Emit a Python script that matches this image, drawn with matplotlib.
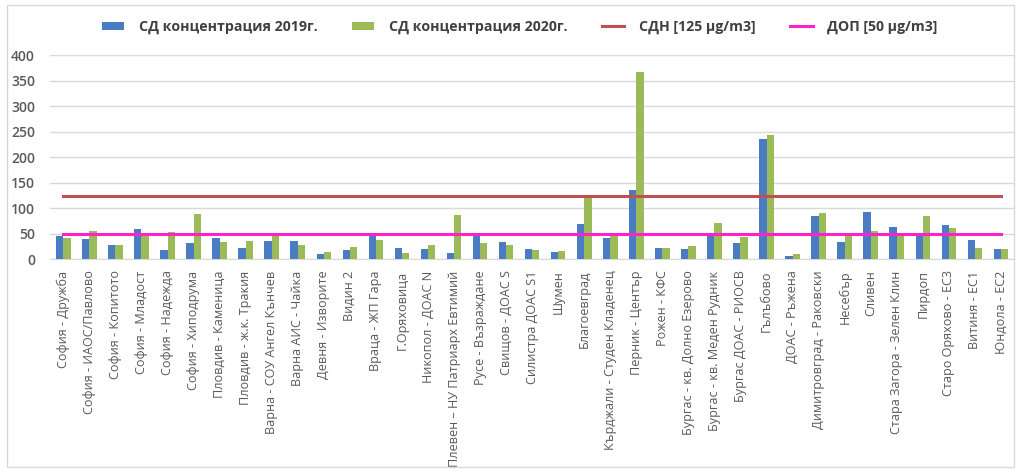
import matplotlib
matplotlib.use("Agg")
import matplotlib.pyplot as plt
import numpy as np
from matplotlib.patches import Rectangle

plt.rcParams["font.family"] = ["Open Sans", "DejaVu Sans"]

stations = [
    "София - Дружба",
    "София - ИАОС/Павлово",
    "София - Копитото",
    "София - Младост",
    "София - Надежда",
    "София - Хиподрума",
    "Пловдив - Каменица",
    "Пловдив - ж.к. Тракия",
    "Варна - СОУ Ангел Кънчев",
    "Варна АИС - Чайка",
    "Девня - Изворите",
    "Видин 2",
    "Враца - ЖП Гара",
    "Г.Оряховица",
    "Никопол - ДОАС N",
    "Плевен – НУ Патриарх Евтимий",
    "Русе - Възраждане",
    "Свищов - ДОАС S",
    "Силистра ДОАС S1",
    "Шумен",
    "Благоевград",
    "Кърджали - Студен Кладенец",
    "Перник - Център",
    "Рожен - КФС",
    "Бургас - кв. Долно Езерово",
    "Бургас - кв. Меден Рудник",
    "Бургас ДОАС - РИОСВ",
    "Гълъбово",
    "ДОАС - Ръжена",
    "Димитровград - Раковски",
    "Несебър",
    "Сливен",
    "Стара Загора - Зелен Клин",
    "Пирдоп",
    "Старо Оряхово - ЕС3",
    "Витиня - ЕС1",
    "Юндола - ЕС2",
]

conc_2019 = [46, 40, 28, 59, 19, 32, 42, 23, 35, 36, 11, 19, 45,
             23, 21, 13, 50, 34, 21, 14, 69, 42, 136, 23, 21,
             46, 32, 236, 7, 85, 34, 93, 64, 46, 67, 37, 21]

conc_2020 = [42, 55, 28, 49, 53, 89, 34, 35, 48, 29, 14, 25, 37,
             12, 28, 87, 32, 28, 19, 16, 125, 48, 367, 23, 26,
             71, 43, 244, 10, 91, 49, 55, 46, 84, 61, 23, 21]

sdn_limit = 125
dop_limit = 50

x = np.arange(len(stations))
w = 0.28

fig = plt.figure(
    figsize=(10.17, 4.72),
    dpi=100
)

ax = fig.add_axes([0.0495, 0.4506, 0.9475, 0.432])

b1 = ax.bar(
    x - w / 2,
    conc_2019,
    width=w,
    color="#4A7CC4",
    label="СД концентрация 2019г.",
    zorder=3
)

b2 = ax.bar(
    x + w / 2,
    conc_2020,
    width=w,
    color="#9BBB59",
    label="СД концентрация 2020г.",
    zorder=3
)

l1, = ax.plot(
    x,
    [sdn_limit] * len(x),
    color="#C0504D",
    linewidth=2.2,
    label="СДН [125 µg/m3]",
    zorder=4
)

l2, = ax.plot(
    x,
    [dop_limit] * len(x),
    color="#FF22CC",
    linewidth=2.2,
    label="ДОП [50 µg/m3]",
    zorder=4
)

ax.set_xlim(-0.5, len(x) - 0.5)
ax.set_ylim(0, 400)
ax.set_yticks(range(0, 401, 50))
ax.grid(
    axis="y",
    color="#D9D9D9",
    linewidth=1,
    zorder=0
)

for side in ["top", "right", "left"]:
    ax.spines[side].set_visible(False)
ax.spines["bottom"].set_color("#D9D9D9")

ax.tick_params(axis="both", length=0, colors="#595959")
ax.tick_params(axis="y", labelsize=10, pad=11)
ax.tick_params(axis="x", pad=8)
ax.set_xticks(x)
ax.set_xticklabels(
    stations,
    rotation=90,
    fontsize=9.1
)
for lbl in ax.get_yticklabels():
    lbl.set_fontweight("semibold")

leg = fig.legend(
    handles=[b1, b2, l1, l2],
    loc="upper center",
    bbox_to_anchor=(0.511, 0.985),
    ncol=4,
    frameon=False,
    prop={"weight": "bold", "size": 10.2},
    handlelength=1.6,
    handleheight=0.56,
    handletextpad=1.05,
    columnspacing=2.4
)
for t in leg.get_texts():
    t.set_color("#404040")

fig.patches.append(
    Rectangle(
        (0.007, 0.01),
        0.99,
        0.98,
        transform=fig.transFigure,
        fill=False,
        edgecolor="#D9D9D9",
        linewidth=1
    )
)

fig.savefig("out.png", dpi=100)
